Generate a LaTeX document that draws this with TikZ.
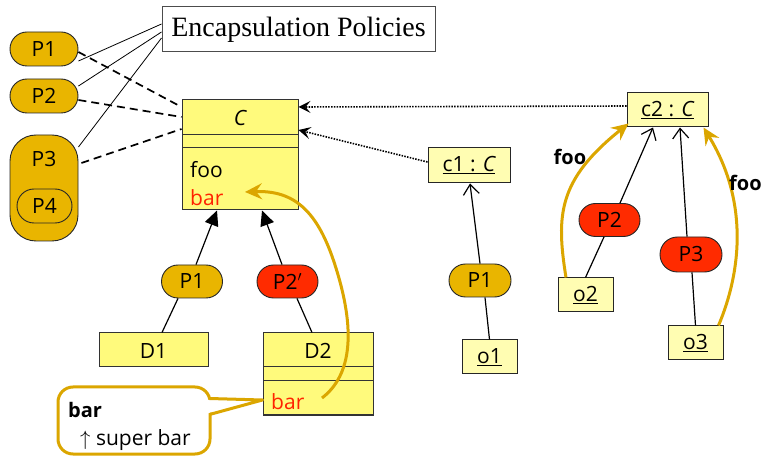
\documentclass[tikz,border=0pt]{standalone}
\usepackage{fontspec}
\setmainfont{Liberation Serif}
\newfontfamily\comic{Open Sans}
\usetikzlibrary{arrows.meta,calc}
\definecolor{gold}{HTML}{E9B500}
\definecolor{hot}{HTML}{FF2B00}
\definecolor{clsfill}{HTML}{FFFA7C}
\definecolor{objfill}{HTML}{FFFDB2}
\definecolor{curvecol}{HTML}{DBA600}
\definecolor{methred}{HTML}{FF2200}
\begin{document}
\begin{tikzpicture}[x=1pt,y=-1pt,
  lbl/.style={font=\comic\fontsize{21}{24}\selectfont, inner sep=0pt},
  pill/.style={draw=black!85, line width=0.9pt, rounded corners=16.5pt,
    minimum width=61pt, minimum height=33pt, inner sep=0pt,
    font=\comic\fontsize{21}{24}\selectfont},
  goldpill/.style={pill, fill=gold},
  redpill/.style={pill, fill=hot},
  cls/.style={draw=black!80, line width=1pt, fill=clsfill, inner sep=0pt,
    minimum width=116pt},
  obj/.style={draw=black!85, line width=1pt, fill=objfill, inner sep=0pt,
    font=\comic\fontsize{21}{24}\selectfont},
  link/.style={line width=1.2pt},
  thin/.style={line width=0.8pt},
  policy/.style={line width=1.7pt, dash pattern=on 8pt off 5pt},
  instof/.style={line width=1.6pt, dash pattern=on 1.5pt off 1.3pt,
    -{Stealth[length=12pt,width=12pt,inset=5pt]}},
  inherit/.style={link, -{Triangle[length=15pt,width=14pt]}},
  openarrow/.style={link, -{Straight Barb[length=10pt,width=16pt,line width=1.2pt]}},
  call/.style={draw=curvecol, line width=3pt,
    -{Stealth[length=17pt,width=16pt,inset=6pt]}},
  boldlbl/.style={font=\comic\fontsize{20}{23}\selectfont\bfseries, inner sep=0pt}
]
\useasboundingbox (0,0) rectangle (764,457);

% title box
\node[draw=black!70, line width=1pt, minimum width=273pt, minimum height=45pt,
  inner sep=0pt, font=\fontsize{28}{31}\selectfont] (enc) at (298.5,29.5)
  {Encapsulation Policies};

% policies on the left
\node[goldpill, minimum width=68pt, minimum height=34pt, rounded corners=17pt] (lp1) at (44,49) {P1};
\node[goldpill, minimum width=68pt, minimum height=34pt, rounded corners=17pt] (lp2) at (44,96) {P2};
\node[goldpill, minimum width=68pt, minimum height=106pt, rounded corners=26pt] (lp3) at (44,188) {};
\node[lbl] (lp3t) at (44,159) {P3};
\node[goldpill, minimum width=55pt, minimum height=34pt, rounded corners=17pt] (lp4) at (44.5,206) {P4};

% class C
\node[cls, minimum height=35pt] (Cn) at (240,117.5) {};
\node[cls, minimum height=13pt] (Ce) at (240,141.5) {};
\node[cls, minimum height=62pt] (Cm) at (240,179) {};
\node[lbl] (Ct) at (240,118) {\itshape C};
\node[lbl, anchor=west] (Cfoo) at (190,170) {foo};
\node[lbl, anchor=west, text=methred] (Cbar) at (190,198) {bar};

% policy links
\draw[thin] ([yshift=-12pt]lp1.east) -- ([yshift=5.5pt]enc.west);
\draw[thin] ([yshift=10pt]lp2.east) -- ([yshift=-2.5pt]enc.west);
\draw[thin] ([yshift=41pt]lp3.east) -- ([yshift=-8.5pt]enc.west);
\draw[policy] ([yshift=-3pt]lp1.east) -- ([yshift=10.5pt]Cn.west);
\draw[policy] ([yshift=-4pt]lp2.east) -- ([yshift=0.5pt]Cn.west);
\draw[policy] ([xshift=3pt,yshift=25pt]lp3.east) -- ([yshift=-11.5pt]Cn.west);

% subclasses
\node[goldpill] (mp1) at (192,281.5) {P1};
\node[redpill] (mp2) at (287.5,281.5) {P2$'$};
\node[cls, minimum width=109pt, minimum height=34pt] (D1) at (153.5,350) {};
\node[lbl] (D1t) at (153.5,351) {D1};
\node[cls, minimum width=110pt, minimum height=34pt] (D2n) at (318,350) {};
\node[cls, minimum width=110pt, minimum height=14pt] (D2e) at (318,374) {};
\node[cls, minimum width=110pt, minimum height=34pt] (D2m) at (318,398) {};
\node[lbl] (D2t) at (318,351) {D2};
\node[lbl, anchor=west, text=methred] (D2bar) at (271,402) {bar};

\draw[inherit] ([xshift=4pt]mp1.north) -- ([xshift=-23pt]Cm.south);
\draw[inherit] ([xshift=-5.5pt]mp2.north) -- ([xshift=22pt]Cm.south);
\draw[link] ([xshift=-14pt]mp1.south) -- ([xshift=8.5pt]D1.north);
\draw[link] ([xshift=9.5pt]mp2.south) -- ([xshift=-6pt]D2n.north);

% super call from D2.bar to C.bar
\draw[call] ([xshift=4pt]D2m.center)
  .. controls (352,375) and (356,330) .. (335,265)
  .. controls (318,212) and (295,190) .. ([xshift=5pt,yshift=-13pt]Cm.center);

% note attached to D2.bar
\node[draw=curvecol, line width=3pt, fill=white, rounded corners=15pt,
  minimum width=152pt, minimum height=67pt] (note) at (134,420.5) {};
\fill[white] (207,400) -- ([yshift=-1pt]D2m.west) -- (207,413.5) -- cycle;
\draw[draw=curvecol, line width=3pt, line join=round]
  (209.5,398.5) -- ([yshift=-2pt]D2m.west) -- (209.5,414.5);
\node[boldlbl, anchor=west] (nbar) at (68,410) {bar};
\node[lbl, anchor=west] (nsup) at (80,440) {$\uparrow$ super bar};

% instances
\node[obj, minimum width=82pt, minimum height=35pt] (c1) at (469,165.5)
  {\underline{c1 : \itshape C}};
\node[obj, minimum width=81pt, minimum height=34pt] (c2) at (667.5,110)
  {\underline{c2 : \itshape C}};
\node[goldpill, minimum width=62pt] (rp1) at (480,280.5) {P1};
\node[obj, minimum width=55pt, minimum height=34pt] (o1) at (489.5,357) {\underline{o1}};
\node[redpill] (rp2) at (609.5,220) {P2};
\node[redpill, minimum width=62pt, minimum height=35pt, rounded corners=17.5pt] (rp3) at (691,254.5) {P3};
\node[obj, minimum width=55pt, minimum height=34pt] (o2) at (585.5,295) {\underline{o2}};
\node[obj, minimum width=55pt, minimum height=34pt] (o3) at (695.5,343) {\underline{o3}};

\draw[instof] ([yshift=4pt]c2.west) -- ([yshift=10.5pt]Cn.east);
\draw[instof] ([yshift=3.5pt]c1.west) -- ([yshift=-12.5pt]Cn.east);

\draw[link] (o1.north) -- ([xshift=5pt]rp1.south);
\draw[openarrow] (rp1.north) -- ([xshift=1pt]c1.south);
\draw[link] (o2.north) -- ([xshift=-5.5pt]rp2.south);
\draw[openarrow] ([xshift=10.5pt]rp2.north) -- ([xshift=-14.5pt]c2.south);
\draw[link] (o3.north) -- ([xshift=1pt]rp3.south);
\draw[openarrow] ([xshift=-4pt]rp3.north) -- ([xshift=12.5pt]c2.south);

% foo calls
\draw[call] ([xshift=-19.5pt]o2.north)
  .. controls (556,215) and (558,180) .. ([xshift=2pt,yshift=4pt]c2.south west);
\draw[call] ([xshift=-5pt]o3.north east)
  .. controls (742,270) and (748,200) .. ([xshift=-5pt]c2.south east);
\node[boldlbl] (foo1) at (570,157) {foo};
\node[boldlbl, anchor=west] (foo2) at (729,183) {foo};
\end{tikzpicture}
\end{document}
